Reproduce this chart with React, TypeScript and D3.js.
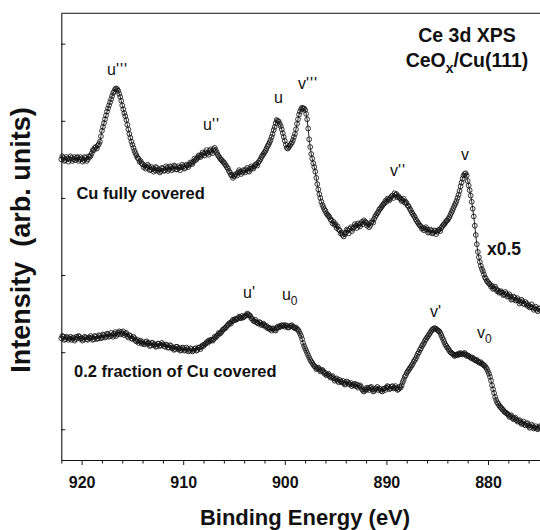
import React, { useEffect, useRef } from 'react';
import * as d3 from 'd3';

// spectra sampled every 0.1 eV, from 922.0 eV down to 874.8 eV
const energyStart = 922;
const energyStep = 0.1;

// Cu fully covered (shown x0.5), one row per eV
const fullCovered = [
  3.50, 3.54, 3.52, 3.48, 3.49, 3.53, 3.51, 3.47, 3.50, 3.54,
  3.52, 3.48, 3.50, 3.53, 3.49, 3.52, 3.53, 3.48, 3.50, 3.53,
  3.51, 3.47, 3.49, 3.53, 3.52, 3.48, 3.50, 3.54, 3.53, 3.55,
  3.58, 3.62, 3.62, 3.65, 3.66, 3.64, 3.68, 3.70, 3.73, 3.80,
  3.87, 3.92, 3.97, 4.02, 4.07, 4.12, 4.16, 4.20, 4.24, 4.28,
  4.32, 4.36, 4.38, 4.41, 4.42, 4.41, 4.39, 4.35, 4.31, 4.26,
  4.20, 4.15, 4.10, 4.06, 4.01, 3.95, 3.89, 3.83, 3.78, 3.73,
  3.69, 3.65, 3.61, 3.58, 3.55, 3.52, 3.51, 3.47, 3.48, 3.45,
  3.44, 3.40, 3.42, 3.38, 3.40, 3.43, 3.41, 3.36, 3.37, 3.40,
  3.38, 3.34, 3.36, 3.40, 3.39, 3.35, 3.37, 3.33, 3.35, 3.39,
  3.38, 3.35, 3.36, 3.41, 3.39, 3.35, 3.37, 3.41, 3.40, 3.36,
  3.38, 3.42, 3.41, 3.37, 3.37, 3.41, 3.39, 3.36, 3.40, 3.43,
  3.41, 3.38, 3.39, 3.43, 3.42, 3.40, 3.43, 3.46, 3.45, 3.44,
  3.47, 3.51, 3.49, 3.50, 3.52, 3.55, 3.54, 3.53, 3.56, 3.59,
  3.57, 3.55, 3.59, 3.62, 3.58, 3.56, 3.61, 3.63, 3.60, 3.58,
  3.63, 3.65, 3.62, 3.59, 3.56, 3.54, 3.52, 3.50, 3.49, 3.47,
  3.46, 3.44, 3.42, 3.40, 3.38, 3.35, 3.33, 3.30, 3.29, 3.26,
  3.28, 3.30, 3.31, 3.29, 3.33, 3.36, 3.34, 3.31, 3.33, 3.36,
  3.35, 3.33, 3.37, 3.39, 3.35, 3.34, 3.38, 3.41, 3.39, 3.38,
  3.41, 3.43, 3.44, 3.42, 3.46, 3.48, 3.50, 3.53, 3.55, 3.57,
  3.59, 3.61, 3.64, 3.67, 3.69, 3.72, 3.75, 3.79, 3.83, 3.88,
  3.92, 3.97, 4.01, 4.00, 3.99, 3.96, 3.93, 3.89, 3.84, 3.79,
  3.74, 3.69, 3.65, 3.64, 3.66, 3.68, 3.70, 3.72, 3.75, 3.79,
  3.83, 3.89, 3.96, 4.02, 4.08, 4.12, 4.15, 4.17, 4.16, 4.16,
  4.14, 4.09, 4.02, 3.90, 3.76, 3.66, 3.57, 3.51, 3.45, 3.40,
  3.34, 3.26, 3.18, 3.11, 3.05, 3.00, 2.95, 2.91, 2.88, 2.85,
  2.83, 2.80, 2.78, 2.77, 2.75, 2.72, 2.71, 2.67, 2.69, 2.65,
  2.66, 2.61, 2.63, 2.59, 2.58, 2.54, 2.55, 2.52, 2.50, 2.53,
  2.55, 2.59, 2.58, 2.54, 2.60, 2.62, 2.57, 2.60, 2.62, 2.66,
  2.64, 2.61, 2.67, 2.65, 2.63, 2.67, 2.69, 2.66, 2.71, 2.69,
  2.68, 2.64, 2.66, 2.62, 2.64, 2.68, 2.70, 2.68, 2.73, 2.76,
  2.78, 2.80, 2.82, 2.85, 2.86, 2.88, 2.90, 2.92, 2.93, 2.96,
  2.95, 2.99, 2.98, 2.97, 3.00, 3.02, 3.03, 3.00, 3.06, 3.04,
  3.05, 3.01, 3.02, 3.00, 2.99, 2.96, 2.97, 2.99, 2.94, 2.95,
  2.93, 2.90, 2.89, 2.86, 2.84, 2.81, 2.79, 2.77, 2.75, 2.72,
  2.70, 2.68, 2.66, 2.64, 2.63, 2.60, 2.61, 2.58, 2.60, 2.62,
  2.59, 2.55, 2.56, 2.59, 2.58, 2.54, 2.55, 2.58, 2.57, 2.53,
  2.56, 2.58, 2.59, 2.57, 2.61, 2.63, 2.65, 2.66, 2.68, 2.70,
  2.71, 2.73, 2.75, 2.78, 2.81, 2.84, 2.87, 2.90, 2.93, 2.96,
  3.00, 3.04, 3.09, 3.15, 3.20, 3.25, 3.29, 3.31, 3.32, 3.29,
  3.22, 3.16, 3.10, 3.03, 2.95, 2.86, 2.76, 2.64, 2.52, 2.40,
  2.30, 2.23, 2.17, 2.12, 2.08, 2.05, 2.01, 1.97, 1.95, 1.92,
  1.91, 1.89, 1.88, 1.85, 1.86, 1.82, 1.83, 1.85, 1.82, 1.79,
  1.80, 1.77, 1.78, 1.79, 1.77, 1.74, 1.75, 1.78, 1.76, 1.72,
  1.73, 1.75, 1.72, 1.68, 1.69, 1.72, 1.71, 1.67, 1.68, 1.70,
  1.67, 1.63, 1.65, 1.68, 1.66, 1.63, 1.62, 1.65, 1.63, 1.60,
  1.61, 1.58, 1.59, 1.62, 1.58, 1.55, 1.57, 1.59, 1.55, 1.53,
  1.56, 1.57, 1.54,
];

// 0.2 fraction of Cu covered
const partCovered = [
  1.18, 1.21, 1.20, 1.16, 1.17, 1.20, 1.19, 1.16, 1.18, 1.20,
  1.16, 1.18, 1.19, 1.15, 1.17, 1.20, 1.18, 1.21, 1.20, 1.17,
  1.18, 1.15, 1.17, 1.20, 1.19, 1.17, 1.16, 1.19, 1.18, 1.21,
  1.19, 1.16, 1.17, 1.21, 1.20, 1.17, 1.18, 1.22, 1.21, 1.18,
  1.19, 1.23, 1.22, 1.19, 1.20, 1.24, 1.23, 1.20, 1.21, 1.25,
  1.22, 1.20, 1.24, 1.26, 1.21, 1.23, 1.25, 1.27, 1.23, 1.26,
  1.24, 1.27, 1.22, 1.24, 1.25, 1.21, 1.19, 1.22, 1.21, 1.18,
  1.17, 1.20, 1.18, 1.15, 1.14, 1.16, 1.12, 1.14, 1.15, 1.11,
  1.13, 1.11, 1.10, 1.13, 1.14, 1.11, 1.12, 1.08, 1.09, 1.12,
  1.12, 1.09, 1.10, 1.07, 1.08, 1.11, 1.11, 1.08, 1.09, 1.12,
  1.10, 1.08, 1.07, 1.10, 1.09, 1.06, 1.06, 1.09, 1.08, 1.05,
  1.06, 1.03, 1.04, 1.07, 1.07, 1.04, 1.05, 1.02, 1.03, 1.06,
  1.05, 1.02, 1.03, 1.06, 1.04, 1.01, 1.02, 1.05, 1.04, 1.01,
  1.02, 1.04, 1.05, 1.02, 1.03, 1.06, 1.06, 1.04, 1.07, 1.09,
  1.08, 1.10, 1.11, 1.13, 1.12, 1.15, 1.14, 1.16, 1.16, 1.15,
  1.17, 1.20, 1.19, 1.21, 1.22, 1.25, 1.24, 1.25, 1.27, 1.29,
  1.30, 1.31, 1.32, 1.34, 1.35, 1.37, 1.38, 1.37, 1.40, 1.42,
  1.41, 1.43, 1.42, 1.43, 1.44, 1.46, 1.45, 1.44, 1.47, 1.45,
  1.46, 1.47, 1.48, 1.50, 1.49, 1.48, 1.47, 1.44, 1.43, 1.41,
  1.40, 1.42, 1.39, 1.38, 1.37, 1.39, 1.38, 1.35, 1.36, 1.37,
  1.35, 1.33, 1.34, 1.31, 1.32, 1.30, 1.31, 1.28, 1.30, 1.31,
  1.29, 1.28, 1.31, 1.33, 1.32, 1.34, 1.33, 1.35, 1.34, 1.35,
  1.33, 1.35, 1.34, 1.32, 1.32, 1.34, 1.34, 1.35, 1.33, 1.32,
  1.31, 1.32, 1.30, 1.29, 1.27, 1.24, 1.21, 1.17, 1.12, 1.08,
  1.05, 1.02, 0.99, 0.96, 0.93, 0.90, 0.88, 0.86, 0.84, 0.82,
  0.81, 0.78, 0.79, 0.80, 0.78, 0.75, 0.76, 0.77, 0.75, 0.72,
  0.73, 0.70, 0.71, 0.72, 0.69, 0.67, 0.68, 0.69, 0.66, 0.63,
  0.65, 0.66, 0.63, 0.61, 0.64, 0.62, 0.61, 0.63, 0.60, 0.58,
  0.59, 0.62, 0.61, 0.59, 0.58, 0.60, 0.56, 0.58, 0.57, 0.59,
  0.56, 0.58, 0.54, 0.56, 0.57, 0.55, 0.52, 0.50, 0.49, 0.52,
  0.51, 0.54, 0.53, 0.51, 0.54, 0.55, 0.52, 0.49, 0.50, 0.52,
  0.53, 0.55, 0.51, 0.53, 0.52, 0.50, 0.49, 0.52, 0.53, 0.51,
  0.54, 0.56, 0.55, 0.52, 0.53, 0.55, 0.56, 0.53, 0.54, 0.56,
  0.53, 0.51, 0.52, 0.55, 0.54, 0.57, 0.61, 0.64, 0.68, 0.70,
  0.73, 0.75, 0.77, 0.79, 0.81, 0.83, 0.85, 0.88, 0.90, 0.92,
  0.95, 0.98, 1.00, 1.03, 1.05, 1.08, 1.10, 1.12, 1.15, 1.17,
  1.19, 1.21, 1.23, 1.25, 1.27, 1.29, 1.30, 1.31, 1.31, 1.30,
  1.29, 1.28, 1.27, 1.25, 1.22, 1.19, 1.16, 1.13, 1.10, 1.08,
  1.06, 1.04, 1.02, 1.00, 0.99, 0.98, 0.97, 0.95, 0.96, 0.97,
  0.96, 0.98, 0.97, 0.99, 0.98, 0.97, 0.98, 0.99, 0.97, 0.95,
  0.96, 0.95, 0.94, 0.93, 0.92, 0.93, 0.91, 0.90, 0.89, 0.90,
  0.88, 0.87, 0.86, 0.87, 0.85, 0.84, 0.83, 0.82, 0.80, 0.78,
  0.75, 0.72, 0.68, 0.63, 0.57, 0.52, 0.47, 0.42, 0.38, 0.35,
  0.33, 0.31, 0.29, 0.28, 0.26, 0.25, 0.23, 0.22, 0.21, 0.20,
  0.19, 0.16, 0.17, 0.18, 0.15, 0.13, 0.14, 0.15, 0.12, 0.10,
  0.11, 0.12, 0.09, 0.07, 0.08, 0.10, 0.06, 0.05, 0.07, 0.08,
  0.05, 0.02, 0.03, 0.06, 0.04, 0.01, 0.02, 0.04, 0.01, 0.00,
  0.02, 0.04, 0.03,
];

const xTicks = [920, 910, 900, 890, 880];
const xMinorTicks = [922, 918, 916, 914, 912, 908, 906, 904, 902, 898, 896, 894, 892, 888, 886, 884, 882, 878, 876];
const yTicks = [0, 1, 2, 3, 4, 5];

// peak names: [letter, primes or subscript, is subscript, energy, intensity]
const peakLabels: [string, string, boolean, number, number][] = [
  ['u', "'''", false, 917.5, 4.59],
  ['u', "''", false, 908.05, 3.88],
  ['u', '', false, 901.06, 4.23],
  ['v', "'''", false, 898.7, 4.41],
  ['v', "''", false, 889.65, 3.29],
  ['v', '', false, 882.66, 3.49],
  ['u', "'", false, 904.11, 1.7],
  ['u', '0', true, 900.28, 1.68],
  ['v', "'", false, 885.71, 1.45],
  ['v', '0', true, 881.08, 1.18],
];

const seriesLabels: [string, number, number, number][] = [
  ['Cu fully covered', 920.51, 2.99, 16.5],
  ['0.2 fraction of Cu covered', 920.75, 0.68, 16.5],
  ['x0.5', 880.1, 2.26, 17.5],
];

const FONT = '"Liberation Sans", Arial, sans-serif';

const App: React.FC = () => {
  const svgRef = useRef<SVGSVGElement>(null);

  useEffect(() => {
    if (!svgRef.current) return;
    const svg = d3.select(svgRef.current);
    svg.selectAll('*').remove();

    const left = 61.3;
    const right = 540;
    const top = 13.3;
    const bottom = 460;

    const x = d3.scaleLinear().domain([922, 874.88]).range([left, right]);
    const y = d3.scaleLinear().domain([-0.398, 5.394]).range([bottom, top]);

    const toPoints = (vals: number[]) =>
      vals.map((v, i) => ({ e: energyStart - i * energyStep, v }));

    // frame top
    svg.append('line')
      .attr('x1', left).attr('x2', right + 5)
      .attr('y1', top).attr('y2', top)
      .attr('stroke', '#111').attr('stroke-width', 1.1);

    // x axis, major + minor ticks (outside)
    const xAxis = svg.append('g')
      .attr('transform', `translate(0,${bottom})`)
      .call(d3.axisBottom(x).tickValues(xTicks).tickSize(5).tickSizeOuter(0).tickPadding(12)
        .tickFormat(d => String(d)));
    xAxis.select('.domain').attr('stroke', '#111').attr('stroke-width', 1.1);
    xAxis.selectAll('.tick line').attr('stroke', '#111');
    xAxis.selectAll('text')
      .attr('font-family', FONT)
      .attr('font-size', 16)
      .attr('font-weight', 'bold')
      .attr('fill', '#111');

    const xMinor = svg.append('g')
      .attr('transform', `translate(0,${bottom})`)
      .call(d3.axisBottom(x).tickValues(xMinorTicks).tickSize(3.5).tickSizeOuter(0).tickFormat(() => ''));
    xMinor.select('.domain').remove();
    xMinor.selectAll('.tick line').attr('stroke', '#111');

    // y axis, ticks inside, no labels
    const yAxis = svg.append('g')
      .attr('transform', `translate(${left},0)`)
      .call(d3.axisRight(y).tickValues(yTicks).tickSize(4).tickSizeOuter(0).tickFormat(() => ''));
    yAxis.select('.domain').attr('stroke', '#111').attr('stroke-width', 1.1);
    yAxis.selectAll('.tick line').attr('stroke', '#111');

    const line = d3.line<{ e: number; v: number }>()
      .x(d => x(d.e))
      .y(d => y(d.v));

    [fullCovered, partCovered].forEach(vals => {
      const pts = toPoints(vals);
      svg.append('path')
        .datum(pts)
        .attr('d', line)
        .attr('fill', 'none')
        .attr('stroke', '#111')
        .attr('stroke-width', 0.9);

      svg.append('g')
        .selectAll('circle')
        .data(pts)
        .enter()
        .append('circle')
        .attr('cx', d => x(d.e))
        .attr('cy', d => y(d.v))
        .attr('r', 2.4)
        .attr('fill', 'none')
        .attr('stroke', '#111')
        .attr('stroke-width', 0.85);
    });

    // peak labels
    peakLabels.forEach(([main, extra, isSub, e, v]) => {
      const t = svg.append('text')
        .attr('x', x(e))
        .attr('y', y(v))
        .attr('font-family', FONT)
        .attr('font-size', 16)
        .attr('fill', '#111');
      t.append('tspan').text(main);
      if (extra) {
        if (isSub) {
          t.append('tspan').attr('dy', 5).attr('font-size', 12).text(extra);
        } else {
          t.append('tspan').attr('letter-spacing', 1).text(extra);
        }
      }
    });

    seriesLabels.forEach(([txt, e, v, size]) => {
      svg.append('text')
        .attr('x', x(e))
        .attr('y', y(v))
        .attr('font-family', FONT)
        .attr('font-size', size)
        .attr('font-weight', 'bold')
        .attr('fill', '#111')
        .text(txt);
    });

    // title
    svg.append('text')
      .attr('x', 467).attr('y', 42)
      .attr('text-anchor', 'middle')
      .attr('font-family', FONT).attr('font-size', 19.5).attr('font-weight', 'bold')
      .attr('fill', '#111')
      .text('Ce 3d XPS');
    const sub = svg.append('text')
      .attr('x', 467).attr('y', 67)
      .attr('text-anchor', 'middle')
      .attr('font-family', FONT).attr('font-size', 19.5).attr('font-weight', 'bold')
      .attr('fill', '#111');
    sub.append('tspan').text('CeO');
    sub.append('tspan').attr('dy', 6).attr('font-size', 14).text('x');
    sub.append('tspan').attr('dy', -6).text('/Cu(111)');

    // axis titles
    svg.append('text')
      .attr('x', 305).attr('y', 525)
      .attr('text-anchor', 'middle')
      .attr('font-family', FONT).attr('font-size', 22).attr('font-weight', 'bold')
      .attr('fill', '#111')
      .text('Binding Energy (eV)');

    svg.append('text')
      .attr('transform', 'translate(30,240) rotate(-90)')
      .attr('text-anchor', 'middle')
      .attr('font-family', FONT).attr('font-size', 27).attr('font-weight', 'bold')
      .attr('fill', '#111')
      .attr('xml:space', 'preserve')
      .text('Intensity  (arb. units)');
  }, []);

  return (
    <svg
      ref={svgRef}
      width={540}
      height={530}
      style={{ position: 'absolute', left: 0, top: 0, background: '#fff' }}
    />
  );
};

export default App;
